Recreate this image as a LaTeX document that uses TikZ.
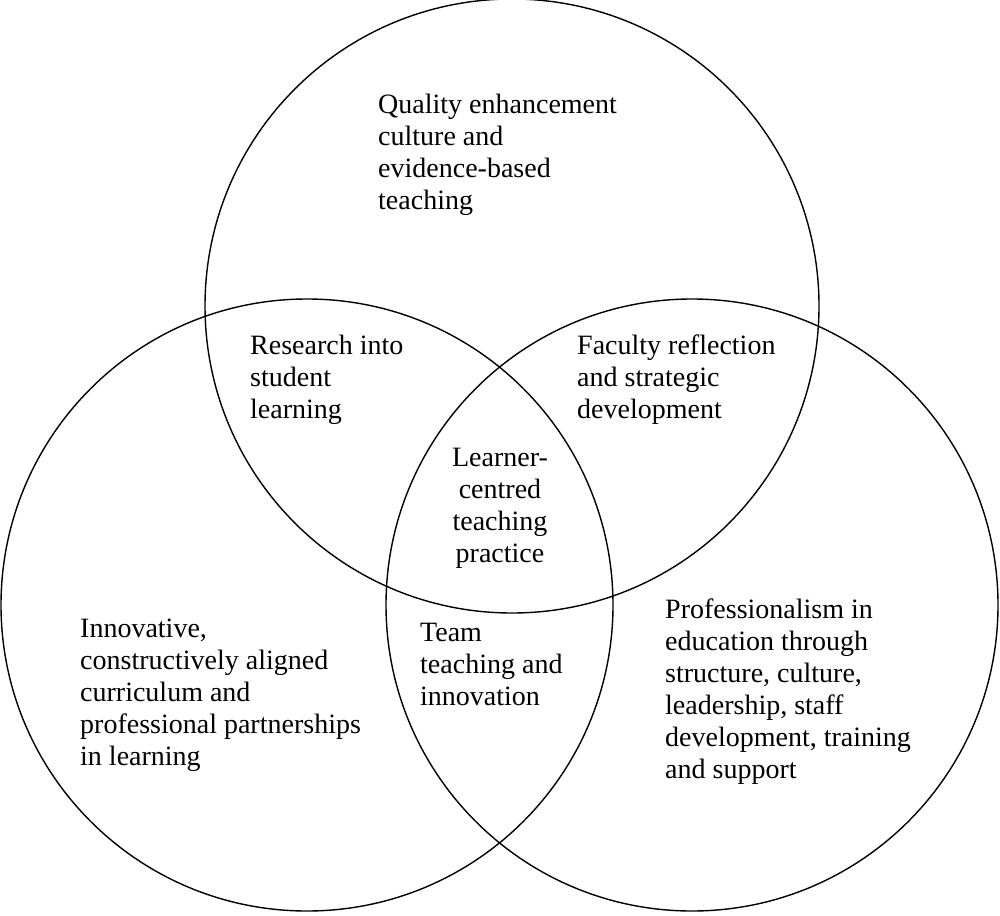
\documentclass[tikz,border=0pt]{standalone}
\usepackage{fontspec}
\setmainfont{Liberation Serif}
\tikzstyle{label}=[anchor=north west, align=left, inner sep=0pt,
	font=\fontsize{28}{32}\selectfont]
\begin{document}
\begin{tikzpicture}[x=1pt, y=-1pt]
	% Frame
	\useasboundingbox (0,0) rectangle (1000,915);

	% Circles
	\draw[line width=1.4pt] (512,306) circle (307);
	\draw[line width=1.4pt] (307,605) circle (306);
	\draw[line width=1.4pt] (692,605) circle (306);

	% Texts
	\node[label] (quality) at (378,94) {Quality enhancement\\culture and\\evidence-based\\teaching};
	\node[label] (research) at (250,335) {Research into\\student\\learning};
	\node[label] (faculty) at (577,335) {Faculty reflection\\and strategic\\development};
	\node[label, anchor=north, align=center] (learner) at (500,448) {Learner-\\centred\\teaching\\practice};
	\node[label] (innov) at (80,619) {Innovative,\\constructively aligned\\curriculum and\\professional partnerships\\in learning};
	\node[label] (team) at (420,623) {Team\\teaching and\\innovation};
	\node[label] (prof) at (665,599) {Professionalism in\\education through\\structure, culture,\\leadership, staff\\development, training\\and support};
\end{tikzpicture}
\end{document}
